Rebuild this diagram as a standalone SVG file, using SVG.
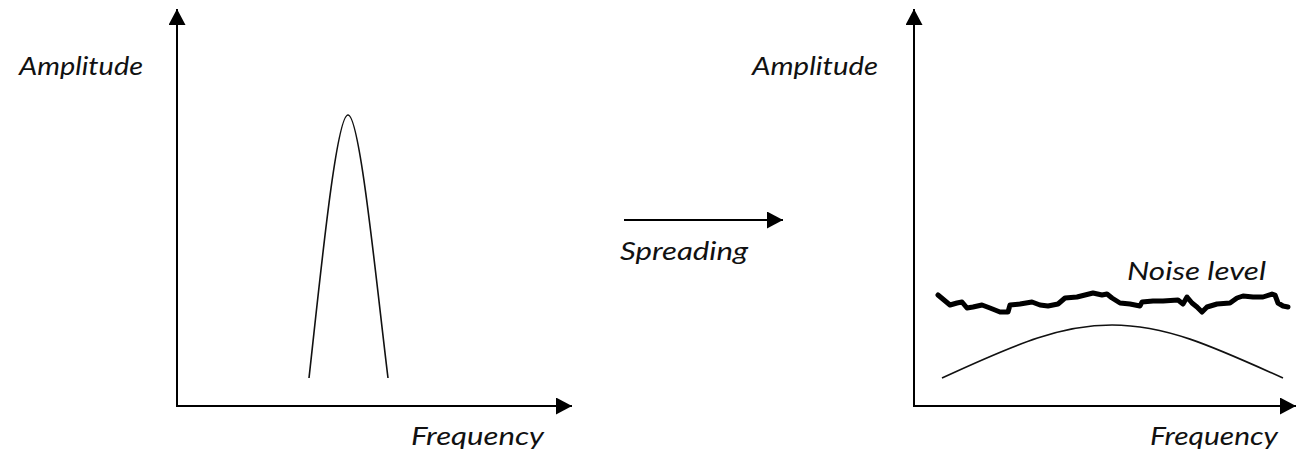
<svg xmlns="http://www.w3.org/2000/svg" width="1297" height="451" viewBox="0 0 1297 451">
  <style>
    .axis { stroke: #000; stroke-width: 2; fill: none; }
    .curve { stroke: #111; stroke-width: 1.6; fill: none; }
    .noise { stroke: #000; stroke-width: 5; fill: none; stroke-linejoin: round; stroke-linecap: round; }
    .label { font-family: "Lato", "Liberation Sans", sans-serif; font-style: italic; font-size: 26px; fill: #111; }
  </style>
  <defs>
    <marker id="head" markerUnits="userSpaceOnUse" markerWidth="17" markerHeight="18" refX="16" refY="8.5" orient="auto">
      <path d="M0,0 L16,8.5 L0,17 Z" fill="#000"/>
    </marker>
  </defs>

  <!-- left plot: narrow-band signal -->
  <g id="plot-left">
    <text class="label" x="19" y="75" textLength="124" lengthAdjust="spacingAndGlyphs">Amplitude</text>
    <text class="label" x="411" y="445" textLength="133" lengthAdjust="spacingAndGlyphs">Frequency</text>
    <path class="curve" d="M309,378 C320,280 336,115 348,115 C360,115 376,280 388,378"/>
  </g>

  <!-- right plot: spread signal under the noise floor -->
  <g id="plot-right">
    <text class="label" x="752" y="75" textLength="126" lengthAdjust="spacingAndGlyphs">Amplitude</text>
    <text class="label" x="1150" y="445" textLength="128" lengthAdjust="spacingAndGlyphs">Frequency</text>
    <text class="label" x="1127" y="280" textLength="139" lengthAdjust="spacingAndGlyphs">Noise level</text>
    <path class="curve" d="M942,378 C1020,342 1062,325 1112,325 C1165,325 1210,345 1283,378"/>
    <path class="noise" d="M938,295 L950,305 L957,303 L962,302 L967,308 L973,307 L982,305 L990,308 L1000,312 L1008,312 L1010,305 L1020,304 L1032,302 L1040,305 L1048,306 L1058,304 L1065,298 L1077,297 L1085,295 L1093,293 L1102,295 L1107,294 L1112,298 L1120,303 L1130,304 L1140,306 L1142,302 L1153,301 L1163,301 L1178,300 L1183,304 L1187,297 L1192,303 L1197,307 L1202,312 L1207,307 L1217,304 L1230,303 L1237,298 L1243,296 L1253,297 L1263,297 L1272,294 L1275,295 L1278,303 L1283,306 L1288,307"/>
  </g>

  <!-- transition label -->
  <g id="spreading">
    <text class="label" x="620" y="260" textLength="128" lengthAdjust="spacingAndGlyphs">Spreading</text>
  </g>

  <g id="connectors">
    <line class="axis" x1="177" y1="406" x2="177" y2="9" marker-end="url(#head)"/>
    <line class="axis" x1="176" y1="406" x2="572" y2="406" marker-end="url(#head)"/>
    <line class="axis" x1="914" y1="406" x2="914" y2="9" marker-end="url(#head)"/>
    <line class="axis" x1="913" y1="406" x2="1296" y2="406" marker-end="url(#head)"/>
    <line class="axis" x1="624" y1="220" x2="783" y2="220" marker-end="url(#head)"/>
  </g>
</svg>
